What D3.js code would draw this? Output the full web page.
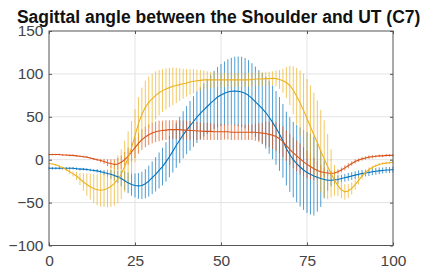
<!DOCTYPE html>
<html>
<head>
<meta charset="utf-8">
<script src="https://cdn.jsdelivr.net/npm/d3@7"></script>
<style>
  body { margin: 0; background: #fff; }
  svg { display: block; }
  text { font-family: "Liberation Sans", Arial, sans-serif; }
</style>
</head>
<body>
<div id="chart"></div>
<script>
// samples 0..100 (% of cycle)
var title = 'Sagittal angle between the Shoulder and UT (C7)';
var xTicks = [0, 25, 50, 75, 100];
var yTicks = [-100, -50, 0, 50, 100, 150];

var blueMean = [
	-10, -10, -10, -10, -10, -10, -10, -10, -10.5, -11,
	-11, -11.5, -12, -12.5, -13, -14, -15, -16, -17, -18.5,
	-20, -22, -24.5, -27, -29, -30, -30.5, -30, -28, -25,
	-21, -17, -12.5, -8, -2.5, 3.5, 10, 16.5, 23, 29,
	34.5, 39.5, 44.5, 49.5, 54, 58, 62, 66, 69.5, 73,
	75.5, 77.5, 79, 79.8, 80, 79.8, 79, 77.5, 75, 71.5,
	67.5, 63.5, 59.5, 55, 49.5, 43.5, 37, 30, 22, 13,
	6, 0, -4.5, -8.5, -12, -15, -17, -19, -20.5, -22,
	-23, -24, -24, -23.5, -23, -22, -21, -20, -19, -18,
	-17, -16, -15.5, -15, -14, -13.5, -13, -12.5, -12, -12,
	-11.5
];
var blueSd = [
	1.5, 1.5, 1.5, 1.5, 1.5, 1.5, 1.5, 1.5, 1.5, 1.5,
	1.5, 1.5, 1.5, 1.5, 2, 2, 3, 4, 5, 6,
	7, 9, 11, 12, 13, 14, 15, 16, 17, 18,
	19, 20, 21, 22, 23, 24, 25, 26, 27, 27.5,
	28, 29, 29.5, 30, 30.5, 31, 32, 33, 34, 35,
	36, 37, 38, 39, 40, 40.5, 41, 41, 41, 41,
	41, 41, 41.5, 42, 42.5, 43, 43, 43, 43, 43,
	43.5, 44, 45, 46, 46.5, 47, 47, 46, 40, 33,
	22, 12, 7, 5, 5, 4.5, 4.5, 4.5, 4.5, 4.5,
	4.5, 4, 4, 4, 4, 4, 4, 3.5, 3.5, 3.5,
	3.5
];
var redMean = [
	6, 6, 6, 6, 5.5, 5.5, 5, 5, 4.5, 4,
	3.5, 3, 2, 1, 0, -1, -2, -3.5, -4.5, -5.5,
	-5, -3, 0, 4, 9, 14, 19, 23.5, 26.5, 29,
	31, 32.5, 33.5, 34, 34.5, 35, 35, 35, 35, 34.5,
	34.5, 34, 34, 33.5, 33.5, 33, 33, 33, 32.5, 32.5,
	32.5, 32.5, 32.5, 32, 32, 32, 32, 32, 32, 32,
	32, 31.5, 31, 30.5, 29.5, 28.5, 27, 24.5, 21, 16.5,
	12, 8, 4.5, 1, -2.5, -5.5, -8, -10.5, -12.5, -14,
	-15, -15.5, -16, -15.5, -14, -12, -9.5, -7, -4.5, -2,
	-0.5, 1, 2, 3, 3.5, 4, 4.5, 4.5, 5, 5,
	5
];
var redSd = [
	1, 1, 1, 1, 1, 1, 1, 1, 1, 1,
	1, 1, 1, 1, 1.5, 2, 3, 4, 5, 6,
	7, 8, 9, 10, 11, 12, 12, 12, 12, 12,
	12, 12, 12, 11.5, 11.5, 11, 11, 11, 11, 11,
	11, 11, 10.5, 10.5, 10, 10, 10, 10, 9.5, 9.5,
	9.5, 9, 9, 9, 9, 9, 9, 9, 9, 9,
	10, 11, 12, 14, 15, 16, 17, 17, 18, 18,
	18, 18, 18, 18, 17, 16, 15, 13, 11, 8,
	5, 3, 3, 3, 3, 3, 3, 3, 2.5, 2.5,
	2, 2, 2, 2, 2, 1.5, 1.5, 1.5, 1.5, 1.5,
	1.5
];
var yellowMean = [
	-4.5, -5, -6, -7.5, -9.5, -11.5, -14, -16.5, -19, -22.5,
	-26, -29, -31.5, -33.5, -35, -35.5, -35, -33.5, -31, -27.5,
	-23, -17, -8, 2, 14, 28, 42, 53, 61, 67,
	71, 75, 78, 80.5, 82.5, 84, 85.5, 86.5, 87.5, 88.5,
	89.5, 90.5, 91.5, 92, 92.5, 93, 93, 93, 93, 93,
	93, 93, 93, 93, 93, 93, 93, 93, 93, 93.5,
	94, 94, 94, 94.5, 94.5, 95, 94.5, 93.5, 92, 90,
	86.5, 81, 74, 66, 57.5, 48, 38.5, 29, 20, 10,
	1, -8, -16, -24, -30.5, -35, -37.5, -36.5, -33.5, -29,
	-24, -19, -15, -11.5, -9, -7, -5.5, -4.5, -4, -3.5,
	-3
];
var yellowSd = [
	0.5, 0.5, 1, 1, 1.5, 2, 2.5, 3, 5, 7,
	10, 13, 15, 17, 18, 19, 20, 22, 24, 26,
	28, 29, 30, 31, 31, 31, 31, 31, 31, 30,
	29, 28, 26.5, 25, 24, 23, 22, 20.5, 19, 17.5,
	16, 15, 14, 13, 12, 11, 10, 9.5, 9, 8.5,
	8, 8, 8, 8, 8, 8, 8, 8, 8, 8,
	8, 8, 8, 8, 8, 8, 9, 11, 14, 18,
	23, 28, 33, 38, 43, 46, 48, 49, 49, 48,
	45, 38, 28, 18, 12, 10, 9, 8, 7, 6,
	5, 4, 3, 2.5, 2, 1.5, 1.5, 1.5, 1.5, 1.5,
	1.5
];

var series = [
	{ mean: blueMean, sd: blueSd, color: '#0072bd' },
	{ mean: redMean, sd: redSd, color: '#d95319' },
	{ mean: yellowMean, sd: yellowSd, color: '#edb120' }
];

var W = 427, H = 268;
var plotL = 49, plotR = 393, plotT = 31, plotB = 245.5;

var svg = d3.select('#chart').append('svg').attr('width', W).attr('height', H);

var x = d3.scaleLinear().domain([0, 100]).range([plotL, plotR]);
var y = d3.scaleLinear().domain([-100, 150]).range([plotB, plotT]);

// grid
svg.append('g')
	.selectAll('line')
	.data(xTicks.slice(1, -1))
	.enter().append('line')
	.attr('x1', function (d) { return x(d); })
	.attr('x2', function (d) { return x(d); })
	.attr('y1', plotT).attr('y2', plotB)
	.attr('stroke', '#e3e3e3').attr('stroke-width', 1);
svg.append('g')
	.selectAll('line')
	.data(yTicks.slice(1, -1))
	.enter().append('line')
	.attr('y1', function (d) { return y(d); })
	.attr('y2', function (d) { return y(d); })
	.attr('x1', plotL).attr('x2', plotR)
	.attr('stroke', '#e3e3e3').attr('stroke-width', 1);

var idx = d3.range(101);

// error bars
series.forEach(function (s) {
	svg.append('g')
		.selectAll('line')
		.data(idx)
		.enter().append('line')
		.attr('x1', function (i) { return x(i); })
		.attr('x2', function (i) { return x(i); })
		.attr('y1', function (i) { return y(s.mean[i] - s.sd[i]); })
		.attr('y2', function (i) { return y(s.mean[i] + s.sd[i]); })
		.attr('stroke', s.color)
		.attr('stroke-opacity', 0.7)
		.attr('stroke-width', 1);
});

// mean lines
var line = d3.line()
	.x(function (d, i) { return x(i); })
	.y(function (d) { return y(d); });
series.forEach(function (s) {
	svg.append('path')
		.datum(s.mean)
		.attr('d', line)
		.attr('fill', 'none')
		.attr('stroke', s.color)
		.attr('stroke-width', 1.1);
});

// axes
svg.append('g')
	.attr('transform', 'translate(0,' + plotB + ')')
	.call(d3.axisBottom(x).tickValues(xTicks).tickSizeInner(-3).tickSizeOuter(0).tickPadding(9));
svg.append('g')
	.attr('transform', 'translate(' + plotL + ',0)')
	.call(d3.axisLeft(y).tickValues(yTicks).tickSizeInner(-3).tickSizeOuter(0).tickPadding(5.5));
svg.append('g')
	.attr('transform', 'translate(0,' + plotT + ')')
	.call(d3.axisTop(x).tickValues(xTicks).tickSizeInner(-3).tickSizeOuter(0).tickFormat(''));
svg.append('g')
	.attr('transform', 'translate(' + plotR + ',0)')
	.call(d3.axisRight(y).tickValues(yTicks).tickSizeInner(-3).tickSizeOuter(0).tickFormat(''));

svg.selectAll('.domain').remove();
svg.selectAll('.tick line').attr('stroke', '#555');
svg.selectAll('.tick text')
	.attr('fill', '#444')
	.style('font-size', '15.5px')
	.style('font-family', '"Liberation Sans", Arial, sans-serif');

svg.append('rect')
	.attr('x', plotL).attr('y', plotT)
	.attr('width', plotR - plotL).attr('height', plotB - plotT)
	.attr('fill', 'none')
	.attr('stroke', '#555')
	.attr('stroke-width', 1);

svg.append('text')
	.attr('x', (17.3 + 420) / 2)
	.attr('y', 22.5)
	.attr('text-anchor', 'middle')
	.style('font-size', '17.5px')
	.style('font-weight', 'bold')
	.attr('fill', '#111')
	.text(title);
</script>
</body>
</html>
